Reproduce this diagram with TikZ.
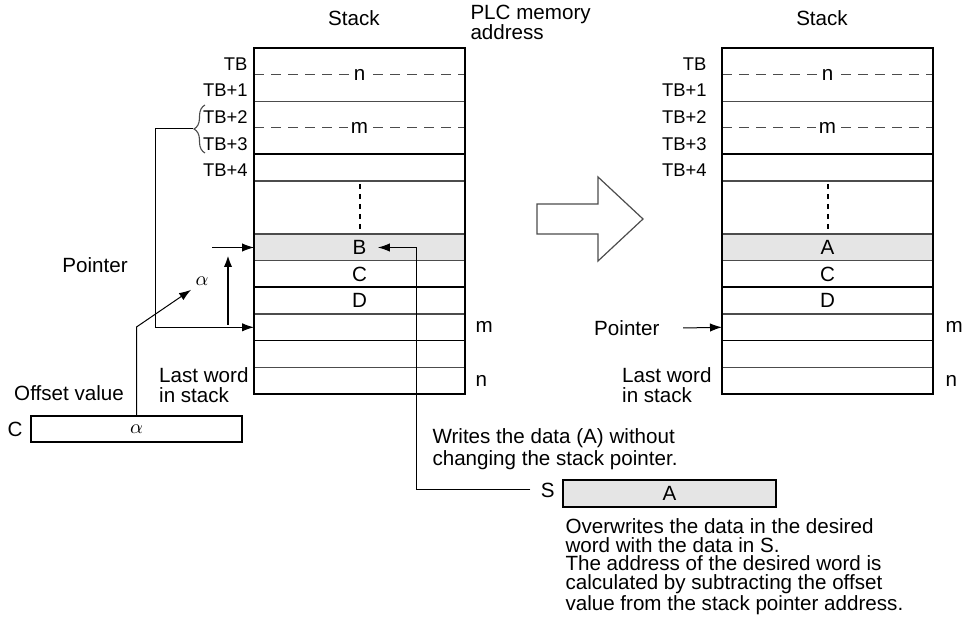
\documentclass[tikz,border=0pt]{standalone}
\usepackage{fontspec}
\setmainfont{Liberation Sans}
\usetikzlibrary{arrows.meta,decorations.pathreplacing}

\begin{document}
\begin{tikzpicture}[x=0.5pt,y=-0.5pt,line width=0.5pt,>={Latex[length=6pt,width=4.2pt]},
  lbl/.style={font=\fontsize{10.3}{9.8}\selectfont,inner sep=0pt},
  tblbl/.style={font=\fontsize{9.2}{10}\selectfont,inner sep=0pt,anchor=east},
  rowline/.style={gray!60!black,line width=0.55pt},
  boldline/.style={black,line width=0.9pt},
  cutline/.style={gray!60!black,line width=0.5pt,dash pattern=on 5pt off 3.5pt}]
  \useasboundingbox (0,0) rectangle (963,624);
  % the two stacks, before and after
  \foreach \x/\tg/\mg/\lg/\w in {254/6/10/5/B,722/15/12/10/A}{
    \fill[gray!20] (\x,234.2) rectangle ++(211,26.6);
    \foreach \i in {2,5,8,10,12} \draw[rowline] (\x,{48+26.6*\i}) -- ++(211,0);
    \draw[rowline,line width=0.7pt] (\x,234.2) -- ++(211,0);
    \foreach \i in {4,9,11} \draw[boldline] (\x,{48+26.6*\i}) -- ++(211,0);
    \draw[cutline] (\x,74.6) -- ++(211,0);
    \draw[cutline] (\x,127.8) -- ++(211,0);
    \node[lbl,fill=white,inner xsep=1.5pt] (n\w) at (\x+105.5,74.6) {n};
    \node[lbl,fill=white,inner xsep=1.5pt] (m\w) at (\x+105.5,127.8) {m};
    \draw[line width=0.8pt,dash pattern=on 2.5pt off 2.5pt] (\x+106,184) -- (\x+106,231);
    \draw[line width=1pt] (\x,48) rectangle ++(211,345.8);
    \node[lbl] (val\w) at (\x+105.5,247.5) {\w};
    \node[lbl] (c\w) at (\x+105.5,274.1) {C};
    \node[lbl] (d\w) at (\x+105.5,300.7) {D};
    \coordinate (sel\w) at (\x,247.5);
    \coordinate (ptr\w) at (\x,327.3);
    \foreach \t [count=\k from 0] in {TB,TB+1,TB+2,TB+3,TB+4}
      \node[tblbl] (tb\w\k) at (\x-\tg,{64+26.6*\k}) {\t};
    \node[lbl,anchor=west] (pm\w) at (\x+211+\mg,327.3) {m};
    \node[lbl,anchor=west] (pn\w) at (\x+211+\mg,380.5) {n};
    \node[lbl] (hd\w) at (\x+100,18) {Stack};
    \node[lbl,align=left,anchor=east] (lw\w) at (\x-\lg,385) {Last word\\in stack};
  }
  \node[lbl,align=left,anchor=north west] (plc) at (470,5) {PLC memory\\address};
  % left side: pointer and offset
  \node[lbl] (ptxtB) at (95,265) {Pointer};
  \draw[rowline,decorate,decoration={brace,amplitude=5.5pt}] (205,153) -- (205,105);
  \coordinate (brtip) at (193,129);
  \draw[->] (brtip) -- (155,129) |- (ptrB);
  \draw[->] (212,247.5) -- (selB);
  \coordinate (mvs) at (228,325);
  \coordinate (mve) at (228,255);
  \draw[->,line width=1.1pt] (mvs) -- (mve);
  \node[lbl] (offv) at (69,393) {Offset value};
  \node[draw,line width=0.9pt,minimum width=105.5pt,minimum height=13pt,inner sep=0pt,lbl] (cbox) at (136.5,429) {$\alpha$};
  \node[lbl,anchor=east] (clbl) at (23,429) {C};
  \node[lbl] (alph) at (202,281) {$\alpha$};
  \draw[->] (cbox.north) -- (136.5,327) -- ([shift={(-4,4)}]alph.south west);
  % right side: source word
  \node[draw,fill=gray!20,line width=0.9pt,minimum width=106.5pt,minimum height=13.5pt,inner sep=0pt,lbl] (sbox) at (669.5,493.5) {A};
  \node[lbl,anchor=east] (slbl) at (555,490) {S};
  \draw[->] ([xshift=-5pt]slbl.west) -- (416,490) |- ([xshift=5.5pt]valB.east);
  \node[lbl,align=left,anchor=north west,font=\fontsize{10.3}{10.8}\selectfont] (wtxt) at (432,428) {Writes the data (A) without\\changing the stack pointer.};
  \node[lbl,align=left,anchor=north west,font=\fontsize{10.3}{9.3}\selectfont] (otxt) at (565,518)
    {Overwrites the data in the desired\\word with the data in S.\\The address of the desired word is\\calculated by subtracting the offset\\value from the stack pointer address.};
  \node[lbl,anchor=east] (ptxtA) at (660,328) {Pointer};
  \draw[->] ([xshift=11.5pt]ptxtA.east) -- (ptrA);
  \draw[rowline,line width=0.6pt] (537,204) -- (598,204) -- (598,177) -- (643,219) -- (598,261) -- (598,234) -- (537,234) -- cycle;
\end{tikzpicture}
\end{document}
